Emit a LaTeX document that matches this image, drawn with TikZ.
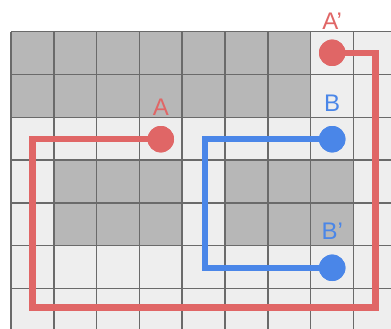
\documentclass[tikz,border=0pt]{standalone}
\usepackage{fontspec}
\setmainfont{Liberation Sans}
\definecolor{pathred}{HTML}{E06666}
\definecolor{pathblue}{HTML}{4A86E8}
\definecolor{cellfree}{HTML}{EEEEEE}
\definecolor{cellwall}{HTML}{B7B7B7}
\definecolor{gridline}{HTML}{6A6A6A}
\begin{document}
\begin{tikzpicture}[x=1pt,y=-1pt,
  dot/.style={circle,inner sep=0pt,minimum size=26.4pt},
  reddot/.style={dot,fill=pathred},
  bluedot/.style={dot,fill=pathblue},
  tag/.style={anchor=base,inner sep=0pt,font=\fontsize{24}{24}\selectfont},
  redroute/.style={draw=pathred,line width=6.5pt},
  blueroute/.style={draw=pathblue,line width=6.2pt}]
\useasboundingbox (0,0) rectangle (391,329);
\def\cs{42.8}
\def\ox{11}
\def\oy{31.7}
% free cells
\fill[cellfree] (\ox,\oy) rectangle (391,329);
% walls
\fill[cellwall] (\ox,\oy) rectangle ({\ox+7*\cs},{\oy+2*\cs});
\fill[cellwall] ({\ox+1*\cs},{\oy+3*\cs}) rectangle ({\ox+4*\cs},{\oy+5*\cs});
\fill[cellwall] ({\ox+5*\cs},{\oy+3*\cs}) rectangle ({\ox+8*\cs},{\oy+5*\cs});
% grid lines
\foreach \i in {0,...,8}
  \draw[gridline,line width=1.5pt] ({\ox+\i*\cs},\oy) -- ({\ox+\i*\cs},329);
\foreach \j in {0,...,6}
  \draw[gridline,line width=1.5pt] (\ox,{\oy+\j*\cs}) -- (391,{\oy+\j*\cs});
% route A -> A'
\coordinate (r1) at (32.7,139.2);
\coordinate (r2) at (32.7,307.4);
\coordinate (r3) at (375.5,307.4);
\coordinate (r4) at (375.5,52.8);
% route B -> B'
\coordinate (b1) at (205.2,139.2);
\coordinate (b2) at (205.2,267.8);
\node[reddot] (A) at (160.8,139.2) {};
\node[reddot] (Ap) at (332.2,52.8) {};
\node[bluedot] (B) at (332.2,139.2) {};
\node[bluedot] (Bp) at (332.2,267.8) {};
\draw[redroute] (A.center) -- (r1) -- (r2) -- (r3) -- (r4) -- (Ap.center);
\draw[blueroute] (B.center) -- (b1) -- (b2) -- (Bp.center);
\node[reddot] at (A) {};
\node[reddot] at (Ap) {};
\node[bluedot] at (B) {};
\node[bluedot] at (Bp) {};
% labels
\node[tag,text=pathred] (lA) at (160.8,115) {A};
\node[tag,text=pathred] (lAp) at (332.2,29.5) {A’};
\node[tag,text=pathblue] (lB) at (332.2,111) {B};
\node[tag,text=pathblue] (lBp) at (332.2,239.3) {B’};
\end{tikzpicture}
\end{document}
